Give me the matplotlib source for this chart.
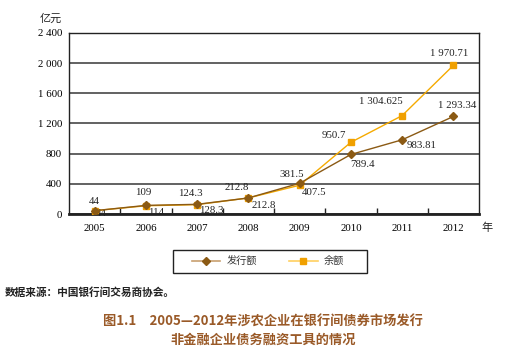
import matplotlib
matplotlib.use("Agg")
import matplotlib.pyplot as plt
from matplotlib.lines import Line2D
from matplotlib.patches import Rectangle
from matplotlib.ticker import FixedLocator, FuncFormatter

years = ["2005", "2006", "2007", "2008", "2009", "2010", "2011", "2012"]
issuance = [44, 114, 128.3, 212.8, 407.5, 789.4, 983.81, 1293.34]
balance = [44, 109, 124.3, 212.8, 381.5, 950.7, 1304.625, 1970.71]
issuance_labels = ["44", "114", "128.3", "212.8", "407.5", "789.4", "983.81", "1 293.34"]
balance_labels = ["44", "109", "124.3", "212.8", "381.5", "950.7", "1 304.625", "1 970.71"]
yticks = [0, 400, 800, 1200, 1600, 2000, 2400]

c_iss = "#8B5A14"
c_bal = "#F5AA00"
serif = ["Liberation Serif", "DejaVu Serif"]
cjk = ["Noto Sans CJK SC", "DejaVu Sans"]
nfs = 7.8

fig = plt.figure(figsize=(5.11, 3.56), dpi=100)
ax = fig.add_axes([69/511, 1-214/356, 410/511, 181/356])
x = list(range(len(years)))

ax.plot(x, balance, color=c_bal, lw=1.0, marker="s", ms=5, mfc="#F0A000", mec="#F0A000", zorder=3)
ax.plot(x, issuance, color=c_iss, lw=1.0, marker="D", ms=4.5, mfc=c_iss, mec=c_iss, zorder=4)

ax.set_xlim(-0.5, 7.5)
ax.set_ylim(0, 2400)
ax.set_xticks(x)
ax.set_xticklabels(years, fontfamily=serif, fontsize=nfs)
ax.tick_params(axis="x", which="major", length=0, pad=7)
ax.xaxis.set_minor_locator(FixedLocator([i + 0.5 for i in range(7)]))
ax.tick_params(axis="x", which="minor", direction="in", length=4, width=1, color="#222222")
ax.set_yticks(yticks)
ax.yaxis.set_major_formatter(FuncFormatter(lambda v, p: f"{int(v):,}".replace(",", " ")))
ax.tick_params(axis="y", length=0, pad=5, labelsize=nfs)
for lab in ax.get_yticklabels():
    lab.set_fontfamily(serif)
ax.grid(axis="y", color="#555555", lw=1.3)
ax.set_axisbelow(True)
for s in ["top", "left", "right"]:
    ax.spines[s].set_color("#222222")
    ax.spines[s].set_linewidth(1.0)
ax.spines["bottom"].set_color("#222222")
ax.spines["bottom"].set_linewidth(2.0)

bal_off = [(0, 9), (-3, 13), (-7, 11), (-12, 10), (-8, 11), (-17, 7), (-21, 14), (-4, 12)]
iss_off = [(7, -3), (10, -7), (14, -6), (15, -8), (14, -9), (12, -10), (19, -6), (4, 11)]
for i in x:
    ax.annotate(balance_labels[i], (i, balance[i]), xytext=bal_off[i], textcoords="offset pixels",
                ha="center", va="center", fontfamily=serif, fontsize=nfs, color="#222222")
    ax.annotate(issuance_labels[i], (i, issuance[i]), xytext=iss_off[i], textcoords="offset pixels",
                ha="center", va="center", fontfamily=serif, fontsize=nfs, color="#222222")

fig.text(51/511, 1-19/356, "亿元", family=cjk, fontsize=8, ha="center", va="center", color="#222222")
fig.text(487/511, 1-228/356, "年", family=cjk, fontsize=8, ha="center", va="center", color="#222222")

# legend box
fig.patches.append(Rectangle((173/511, 1-273/356), 194/511, 23/356, transform=fig.transFigure,
                             fill=False, edgecolor="#222222", lw=1.0))
handles = [
    Line2D([0], [0], color="#C8A070", lw=1.2, marker="D", ms=4, mfc=c_iss, mec=c_iss),
    Line2D([0], [0], color="#FFD060", lw=1.2, marker="s", ms=4, mfc="#F0A000", mec="#F0A000"),
]
leg = fig.legend(handles, ["发行额", "余额"], loc="center", bbox_to_anchor=(268/511, 1-261.5/356),
                 ncol=2, frameon=False, prop={"family": cjk, "size": 7.3},
                 handlelength=2.8, columnspacing=3.2, borderpad=0.3, handletextpad=0.6)
for t in leg.get_texts():
    t.set_color("#333333")

fig.text(5/511, 1-293/356, "数据来源：中国银行间交易商协会。", family=cjk, fontsize=7.7,
         fontweight="bold", ha="left", va="center", color="#222222")
fig.text(263/511, 1-322/356, "图1.1　2005—2012年涉农企业在银行间债券市场发行", family=cjk, fontsize=9.5,
         fontweight="bold", ha="center", va="center", color="#9A5A28")
fig.text(263/511, 1-340/356, "非金融企业债务融资工具的情况", family=cjk, fontsize=9.5,
         fontweight="bold", ha="center", va="center", color="#9A5A28")

fig.savefig("out.png", dpi=100)
